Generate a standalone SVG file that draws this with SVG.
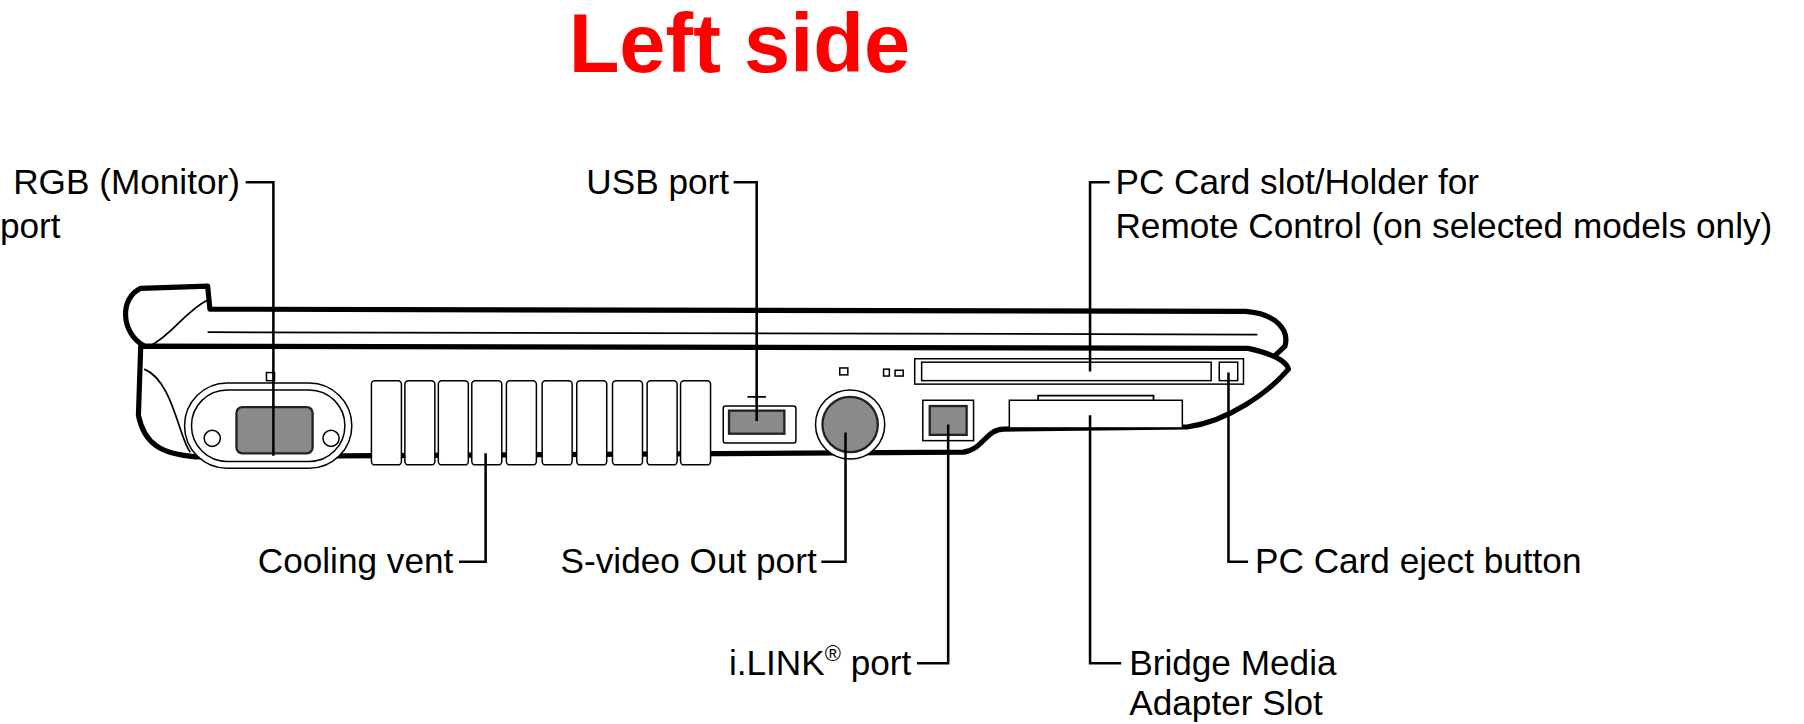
<svg xmlns="http://www.w3.org/2000/svg" width="1804" height="724" viewBox="0 0 1804 724">
<style>
.t{font-family:"Liberation Sans",Arial,sans-serif;font-size:30.5px;fill:#000}
.e{text-anchor:end}
.ttl{font-family:"Liberation Sans",Arial,sans-serif;font-size:72px;font-weight:bold;fill:#f00}
.ld{fill:none;stroke:#000;stroke-width:2.2}
.o{fill:#fff;stroke:#000;stroke-width:4.5;stroke-linejoin:round}
.th{fill:none;stroke:#000;stroke-width:1.5}
.pt{fill:#fff;stroke:#000;stroke-width:1.3}
.dk{fill:#8a8a8a;stroke:#222;stroke-width:2}
</style>
<rect width="1804" height="724" fill="#fff"/>
<g transform="scale(1.1535)">
<text class="ttl" x="641" y="62" text-anchor="middle">Left side</text>
<g id="laptop">
<path class="o" d="M125,300 C104,288 104,258 122,250 L180,248 L182,268 L1080,270 C1105,272 1118,285 1114,300 L1095,318"/>
<path class="o" d="M122,300 L1082,302 C1100,306 1115,312 1117,320 C1100,340 1065,365 1030,370 L870,372 C855,372 852,390 835,392 L170,396 C140,394 125,385 120,360 Z"/>
<path class="th" d="M180,288 L1090,290 M130,300 C150,290 160,270 180,260"/>
<path class="th" d="M125,320 C150,330 155,380 165,392"/>
</g>
<g id="rgb-port">
<rect class="pt" x="160" y="332" width="145" height="74" rx="37"/>
<rect class="pt" x="166" y="338" width="133" height="62" rx="31"/>
<rect class="dk" x="205" y="353" width="66" height="40" rx="5"/>
<circle class="pt" cx="184" cy="380" r="7"/><circle class="pt" cx="287" cy="380" r="7"/>
<rect class="pt" x="231" y="323" width="7" height="7"/>
</g>
<g id="cooling-vent" class="pt">
<rect x="322" y="330" width="26" height="73" rx="3"/><rect x="351" y="330" width="26" height="73" rx="3"/>
<rect x="380" y="330" width="26" height="73" rx="3"/><rect x="409" y="330" width="26" height="73" rx="3"/>
<rect x="439" y="330" width="26" height="73" rx="3"/><rect x="470" y="330" width="26" height="73" rx="3"/>
<rect x="500" y="330" width="26" height="73" rx="3"/><rect x="531" y="330" width="26" height="73" rx="3"/>
<rect x="561" y="330" width="26" height="73" rx="3"/><rect x="590" y="330" width="26" height="73" rx="3"/>
</g>
<g id="usb-port">
<rect class="pt" x="627" y="352" width="63" height="32" rx="2"/>
<rect class="dk" x="632" y="356" width="48" height="20"/>
<path class="th" d="M648,344 H664 M656,340 V348"/>
</g>
<g id="svideo-port">
<circle class="pt" cx="737" cy="368" r="30"/>
<circle class="dk" cx="737" cy="368" r="24"/>
<rect class="pt" x="728" y="319" width="7" height="6"/>
</g>
<g id="ilink-port">
<rect class="pt" x="800" y="347" width="44" height="35"/>
<rect class="dk" x="806" y="352" width="32" height="25"/>
<rect class="pt" x="766" y="320" width="5" height="6"/><rect class="pt" x="776" y="321" width="7" height="5"/>
</g>
<g id="pc-card-slot">
<rect class="pt" x="793" y="311" width="285" height="22" stroke-width="2.2"/>
<rect class="pt" x="799" y="314" width="251" height="16"/>
<rect class="pt" x="1057" y="314" width="16" height="16"/>
</g>
<g id="bridge-media">
<rect class="pt" x="875" y="347" width="150" height="24"/>
<path class="th" d="M900,347 V343 H1000 V347"/>
</g>
<g id="labels">
<text class="t e" x="208" y="168">RGB (Monitor)</text><text class="t" x="0" y="206">port</text>
<text class="t e" x="632" y="168">USB port</text>
<text class="t" x="967" y="168">PC Card slot/Holder for</text><text class="t" x="967" y="206">Remote Control (on selected models only)</text>
<text class="t e" x="393" y="497">Cooling vent</text>
<text class="t e" x="708" y="497">S-video Out port</text>
<text class="t" x="1088" y="497">PC Card eject button</text>
<text class="t e" x="790" y="585">i.LINK<tspan font-size="19" dy="-12">®</tspan><tspan dy="12"> port</tspan></text>
<text class="t" x="979" y="585">Bridge Media</text><text class="t" x="979" y="620">Adapter Slot</text>
</g>
<g id="connectors" class="ld">
<path d="M213,158 H237 V395"/>
<path d="M636,158 H656 V365"/>
<path d="M962,158 H945 V322"/>
<path d="M398,487 H421 V393"/>
<path d="M712,487 H733 V375"/>
<path d="M795,575 H822 V368"/>
<path d="M972,575 H945 V360"/>
<path d="M1082,487 H1065 V323"/>
</g>
</g>
</svg>
